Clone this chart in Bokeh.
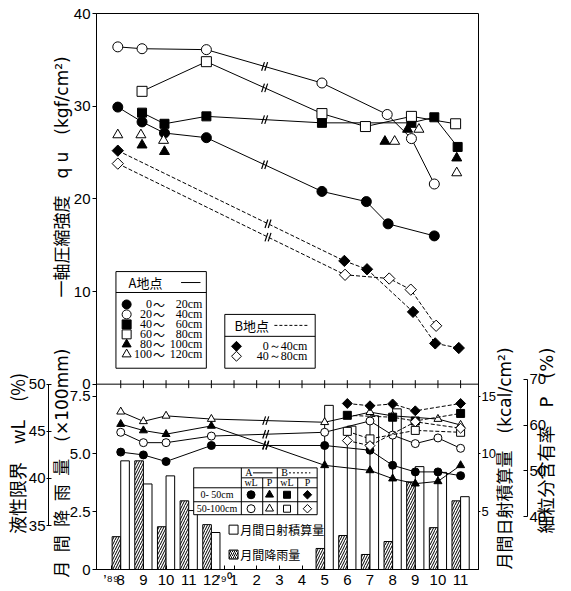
import math
import numpy as np
from bokeh.plotting import figure
from bokeh.models import Range1d, LinearAxis, FixedTicker, Span
from bokeh.core.properties import value
from bokeh.embed import file_html
from bokeh.resources import INLINE

# ---------------- data ----------------
# x = month index: 0 = Aug 1989 ... 15 = Nov 1990
month_ticks = list(range(16))
month_labels = ["8", "9", "10", "11", "12", "1", "2", "3", "4", "5", "6", "7", "8", "9", "10", "11"]
year_ticks = [-0.42, 4.58]
year_labels = ["\u2019\u2078\u2079", "\u2019\u2079\u2070"]   # '89, '90

# upper panel: unconfined compressive strength qu (kgf/cm2)
a0_20_x = [-0.13, 0.94, 1.93, 3.78, 8.88, 10.84, 11.8, 13.84]
a0_20_y = [29.9, 28.3, 27.1, 26.6, 20.8, 19.7, 17.3, 16.0]
a20_40_x = [-0.13, 0.94, 3.78, 8.88, 11.76, 12.83, 13.84]
a20_40_y = [36.4, 36.2, 36.1, 32.5, 29.1, 26.5, 21.6]
a40_60_x = [0.94, 1.93, 3.78, 8.88, 12.83, 13.84, 14.87]
a40_60_y = [29.3, 28.1, 28.9, 28.2, 28.2, 28.8, 25.6]
a60_80_x = [0.94, 3.78, 8.88, 10.8, 12.83, 14.78]
a60_80_y = [31.6, 34.8, 29.2, 27.8, 28.9, 28.1]
a80_100_x = [0.94, 1.93, 11.66, 12.66, 14.83]
a80_100_y = [25.8, 25.1, 26.2, 27.5, 24.4]
a100_120_x = [-0.13, 0.89, 1.89, 12.09, 13.16, 14.83]
a100_120_y = [26.9, 26.9, 26.3, 26.2, 27.5, 22.8]
b0_40_x = [-0.13, 9.87, 10.87, 12.9, 13.88, 14.92]
b0_40_y = [25.2, 13.3, 12.4, 7.8, 4.4, 3.9]
b40_80_x = [-0.13, 9.9, 11.85, 12.8, 13.92]
b40_80_y = [23.8, 11.8, 11.4, 10.2, 6.3]

# lower panel: liquid limit wL (%) and fines content P (%)
a_lw_x = [0, 1, 2, 4, 9, 11, 12, 13, 14, 15]
a_wl_0_50 = [42.8, 42.5, 41.8, 43.5, 43.5, 43.0, 41.4, 40.7, 40.7, 40.3]
a_wl_50_100 = [44.9, 43.8, 43.8, 44.5, 44.9, 46.1, 44.6, 43.7, 44.3, 43.2]
a_p_0_50 = [60.2, 58.8, 58.0, 59.8, 51.2, 50.1, 48.3, 47.2, 47.7, 51.2]
a_p2_x = [0, 1, 2, 4, 9, 11, 12, 14, 15]
a_p_50_100 = [62.9, 60.8, 62.0, 61.3, 60.6, 62.8, 62.0, 61.3, 60.0]
b_wl1_x = [10, 12, 13, 15]
b_wl_0_50 = [46.7, 46.5, 46.1, 46.9]
b_wl2_x = [10, 11, 13, 15]
b_wl_50_100 = [45.0, 44.2, 45.1, 44.9]
b_p1_x = [10, 11, 12, 13, 15]
b_p_0_50 = [64.7, 64.2, 64.6, 63.1, 64.7]
b_p2_x = [10, 11, 13, 15]
b_p_50_100 = [56.6, 55.5, 60.7, 59.3]

# monthly bars
bar_months = [0, 1, 2, 3, 4, 9, 10, 11, 12, 13, 14, 15]
rain = [1.42, 4.70, 1.85, 2.97, 1.94, 0.91, 1.47, 0.65, 1.21, 3.79, 1.81, 2.97]      # x100 mm
solar = [9.4, 7.4, 8.1, 5.1, 3.2, 14.2, 12.4, 13.3, 13.9, 8.9, 8.4, 6.3]           # kcal/cm2

qu_ticks = [0, 10, 20, 30, 40]
rain_ticks = [0, 2.5, 5.0, 7.5]
rain_labels = ["0", "2.5", "5.0", "7.5"]
wl_ticks = [35, 40, 45, 50]
solar_ticks = [5, 10, 15]
p_ticks = [40, 50, 60, 70]

# ---------------- figure ----------------
NUM = "Liberation Sans Narrow, Liberation Sans, sans-serif"
SER = "Liberation Serif, serif"
CJK = "Noto Sans CJK JP"
MIX = "DejaVu Sans, Noto Sans CJK JP"

QU = (-20.0, 40.0)
RAIN = (0.0, 24.05)
SOLAR = (0.0, 48.1)
WL = (30.35, 89.31)
PP = (28.47, 149.8)

W, H = 570, 590
FL, FR, FT, FB = 85, 478, 13, 571          # frame edges in page pixels
p = figure(width=W, height=H, x_range=Range1d(-1.07, 15.79), y_range=Range1d(*QU),
           output_backend="svg", toolbar_location=None,
           min_border_left=FL, min_border_right=W - FR, min_border_top=FT, min_border_bottom=H - FB)
p.outline_line_color = "black"
p.outline_line_width = 1
p.xgrid.visible = False
p.ygrid.visible = False
p.extra_y_ranges = {"rain": Range1d(*RAIN), "solar": Range1d(*SOLAR), "wl": Range1d(*WL),
                    "pp": Range1d(*PP), "py": Range1d(0, 558)}
p.extra_x_ranges = {"px": Range1d(0, 393)}
FRAME_MID = (FT + FB) / 2.0


def style_axis(a, size="15px"):
    a.axis_line_color = "black"
    a.major_tick_line_color = "black"
    a.minor_tick_line_color = None
    a.major_label_text_font = NUM
    a.major_label_text_font_size = size
    a.major_label_text_color = "black"


def left_title(a, text, center_page_y, size_px, standoff, font=CJK):
    # left titles are centred on the frame; ideographic spaces move the visible text
    shift = center_page_y - FRAME_MID
    n = int(round(abs(2 * shift) / size_px))
    pad = "\u3000" * n
    a.axis_label = text + pad if shift > 0 else pad + text
    a.axis_label_text_font = font
    a.axis_label_text_font_size = "%dpx" % size_px
    a.axis_label_text_font_style = "normal"
    a.axis_label_text_color = "black"
    a.axis_label_standoff = standoff


def right_title(a, text, bottom_page_y, size_px, standoff, font=MIX, line_height=1.2):
    # right titles read bottom-to-top, starting at the bottom of the frame
    n = max(0, int(round((FB - bottom_page_y) / size_px)))
    a.axis_label = "\u3000" * n + text
    a.axis_label_orientation = math.pi / 2
    a.axis_label_align = "start"
    a.axis_label_text_font = font
    a.axis_label_text_font_size = "%dpx" % size_px
    a.axis_label_text_font_style = "normal"
    a.axis_label_text_color = "black"
    a.axis_label_text_line_height = line_height
    a.axis_label_standoff = standoff


# combined left axis: qu (upper) + rainfall (lower)
rain_pos = [QU[0] + (r - RAIN[0]) * (QU[1] - QU[0]) / (RAIN[1] - RAIN[0]) for r in rain_ticks]
ax = p.yaxis[0]
ax.ticker = FixedTicker(ticks=qu_ticks + rain_pos)
ax.major_label_overrides = {rp: lab for rp, lab in zip(rain_pos, rain_labels)}
style_axis(ax)
ax.major_tick_out = 4
ax.major_tick_in = 0
ax.major_label_standoff = 2
rain_title = "月\u2002間\u2002降\u2002雨\u2002量　(×100mm)"
qu_title = "一軸圧縮強度　q u　(kgf/cm²)"
left_title(ax, rain_title + "　　　" + qu_title, 318, 17, -5, MIX)

wl_axis = LinearAxis(y_range_name="wl", ticker=FixedTicker(ticks=wl_ticks), bounds=(35, 50))
style_axis(wl_axis)
wl_axis.major_tick_in = 3
wl_axis.major_tick_out = 2
wl_axis.major_label_standoff = 1
left_title(wl_axis, "液性限界　wL　(%)", 458, 18, -4)
p.add_layout(wl_axis, "left")

solar_axis = LinearAxis(y_range_name="solar", ticker=FixedTicker(ticks=solar_ticks), bounds=(0, 15))
style_axis(solar_axis, "13px")
solar_axis.major_tick_out = 2
solar_axis.major_tick_in = 0
solar_axis.major_label_standoff = 1
right_title(solar_axis, "月間日射積算量　(kcal/cm²)", 571, 17, 6, line_height=0.3)
p.add_layout(solar_axis, "right")

p_axis = LinearAxis(y_range_name="pp", ticker=FixedTicker(ticks=p_ticks), bounds=(40, 70))
style_axis(p_axis)
p_axis.major_tick_in = 4
p_axis.major_tick_out = 0
p_axis.major_label_standoff = 2
right_title(p_axis, "細粒分含有率　P　(%)", 535, 18, -3)
p.add_layout(p_axis, "right")

xa = p.xaxis[0]
xa.ticker = FixedTicker(ticks=month_ticks + year_ticks)
xa.major_label_overrides = {**{t: lab for t, lab in zip(month_ticks, month_labels)},
                            **{t: lab for t, lab in zip(year_ticks, year_labels)}}
style_axis(xa)
xa.major_tick_in = 4
xa.major_tick_out = 0
xa.major_label_standoff = 1

# boundary between panels with cross ticks
p.add_layout(Span(location=0, dimension="width", line_color="black", line_width=1))
p.scatter(month_ticks, [0] * len(month_ticks), marker="dash", angle=math.pi / 2, size=8,
          line_color="black")

# ---------------- bars ----------------
bm = np.array(bar_months, dtype=float)
p.vbar(x=bm - 0.19, top=rain, bottom=0, width=0.38, y_range_name="rain",
       fill_color="white", line_color="black", line_width=1,
       hatch_pattern="/", hatch_scale=5, hatch_weight=1, hatch_color="black")
p.vbar(x=bm + 0.19, top=solar, bottom=0, width=0.38, y_range_name="solar",
       fill_color="white", line_color="black", line_width=1)


def series(xs, ys, marker, filled, dash, rng="default", size=10, angle=0.0, line=True):
    kw = {} if rng == "default" else {"y_range_name": rng}
    if line:
        p.line(xs, ys, line_color="black", line_width=1,
               line_dash="4 2" if dash else "solid", **kw)
    p.scatter(xs, ys, marker=marker, size=size, angle=angle,
              fill_color="black" if filled else "white", line_color="black", line_width=1, **kw)


def breakmark(xs, ys, at, rng="default"):
    kw = {} if rng == "default" else {"y_range_name": rng}
    yv = float(np.interp(at, xs, ys))
    p.scatter([at - 0.07, at + 0.07], [yv, yv], marker="dash", angle=1.25, size=9,
              line_color="black", line_width=1.2, **kw)


# upper series
series(a0_20_x, a0_20_y, "circle", True, False)
series(a20_40_x, a20_40_y, "circle", False, False)
series(a40_60_x, a40_60_y, "square", True, False, size=9)
series(a60_80_x, a60_80_y, "square", False, False, size=10)
series(a80_100_x, a80_100_y, "triangle", True, False, line=False)
series(a100_120_x, a100_120_y, "triangle", False, False, line=False)
series(b0_40_x, b0_40_y, "square", True, True, size=8, angle=math.pi / 4)
series(b40_80_x, b40_80_y, "square", False, True, size=8, angle=math.pi / 4)
for xs, ys in [(a0_20_x, a0_20_y), (a20_40_x, a20_40_y), (a40_60_x, a40_60_y), (a60_80_x, a60_80_y)]:
    breakmark(xs, ys, 6.35)
for xs, ys in [(b0_40_x, b0_40_y), (b40_80_x, b40_80_y)]:
    breakmark(xs, ys, 6.5)

# lower series
series(a_lw_x, a_wl_0_50, "circle", True, False, "wl", size=8)
series(a_lw_x, a_wl_50_100, "circle", False, False, "wl", size=8)
series(a_lw_x, a_p_0_50, "triangle", True, False, "pp", size=8)
series(a_p2_x, a_p_50_100, "triangle", False, False, "pp", size=8)
series(b_wl1_x, b_wl_0_50, "square", True, True, "wl", size=8)
series(b_wl2_x, b_wl_50_100, "square", False, True, "wl", size=8)
series(b_p1_x, b_p_0_50, "square", True, True, "pp", size=7, angle=math.pi / 4)
series(b_p2_x, b_p_50_100, "square", False, True, "pp", size=7, angle=math.pi / 4)
for xs, ys, r in [(a_lw_x, a_wl_0_50, "wl"), (a_lw_x, a_wl_50_100, "wl"),
                  (a_lw_x, a_p_0_50, "pp"), (a_p2_x, a_p_50_100, "pp")]:
    breakmark(xs, ys, 6.4, r)

# ---------------- legends (drawn in frame-pixel coordinates) ----------------
PX = dict(x_range_name="px", y_range_name="py")


def box(l, r, b, t):
    p.quad(left=[l], right=[r], bottom=[b], top=[t], fill_color="white", line_color="black",
           line_width=1, **PX)


def seg(x0, y0, x1, y1, dash="solid"):
    p.segment(x0=[x0], y0=[y0], x1=[x1], y1=[y1], line_color="black", line_width=1,
              line_dash=dash, **PX)


def txt(x, y, s, size="11px", font=SER, align="left"):
    p.text(x=[x], y=[y], text=[s], text_font=value(font), text_font_size=size,
           text_align=align, text_baseline="middle", text_color="black", **PX)


def mk(x, y, marker, filled, size=9, angle=0.0):
    p.scatter([x], [y], marker=marker, size=size, angle=angle,
              fill_color="black" if filled else "white", line_color="black", line_width=1, **PX)


# A box
box(20, 113, 202, 299)
seg(20, 278, 113, 278)
txt(33, 288, "A地点", "13px", CJK)
seg(87, 288, 107, 288)
a_rows = [("0", "20cm", "circle", True), ("20", "40cm", "circle", False),
          ("40", "60cm", "square", True), ("60", "80cm", "square", False),
          ("80", "100cm", "triangle", True), ("100", "120cm", "triangle", False)]
for k, (l, r, m, f) in enumerate(a_rows):
    yy = 266 - 10 * k
    mk(31, yy, m, f, 9)
    txt(57, yy, l, "12px", SER, "right")
    txt(58, yy, "～", "12px", CJK, "left")
    txt(109, yy, r, "12px", SER, "right")

# B box
box(132, 225, 202, 256)
seg(132, 234, 225, 234)
txt(142, 245, "B地点", "13px", CJK)
seg(183, 245, 217, 245, "3 2")
for k, (s, f) in enumerate([("0～40cm", True), ("40～80cm", False)]):
    yy = 224 - 10 * k
    mk(144, yy, "square", f, 7, math.pi / 4)
    txt(217, yy, s, "12px", SER, "right")

# lower table legend
box(100, 227, 55, 102)
seg(149, 92, 227, 92)
seg(100, 82, 227, 82)
seg(100, 68, 227, 68)
seg(149, 55, 149, 102)
seg(186, 55, 186, 102)
seg(171, 55, 171, 92)
seg(207, 55, 207, 92)
txt(153, 97, "A", "10px", SER)
seg(161, 97, 181, 97)
txt(190, 97, "B", "10px", SER)
seg(198, 97, 220, 97, "2 2")
for xx, s in [(159, "wL"), (178, "P"), (196, "wL"), (217, "P")]:
    txt(xx, 87, s, "10px", SER, "center")
txt(124, 75, "0- 50cm", "10px", SER, "center")
txt(124, 61, "50-100cm", "10px", SER, "center")
for yy, f in [(75, True), (61, False)]:
    mk(159, yy, "circle", f, 8)
    mk(178, yy, "triangle", f, 8)
    mk(196, yy, "square", f, 7)
    mk(217, yy, "square", f, 6, math.pi / 4)

# bar legend
mk(141, 40, "square", False, 9)
txt(148, 40, "月間日射積算量", "12px", CJK)
p.scatter([141], [15], marker="square", size=9, fill_color="white", line_color="black",
          hatch_pattern="/", hatch_scale=4, hatch_weight=1, hatch_color="black", **PX)
txt(148, 15, "月間降雨量", "12px", CJK)

open("out.html", "w").write(file_html(p, INLINE))
